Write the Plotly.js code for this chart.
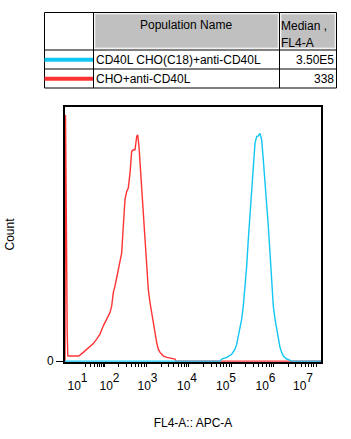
<!DOCTYPE html>
<html>
<head>
<meta charset="utf-8">
<script src="https://cdn.plot.ly/plotly-3.0.1.min.js"></script>
<style>html,body{margin:0;padding:0;background:#fff;}#chart{width:351px;height:439px;}</style>
</head>
<body>
<div id="chart"></div>
<script>
// ---- data (x in display channels 0..256 of the biexponential FL4-A axis, y in % of max) ----
const redX  = [0, 0.5, 1.3, 1.6, 2.2, 2.8, 3.3, 13.3, 15, 18.3, 21.7, 25, 28.3, 31.7, 35, 38.3, 41.7, 45, 46.7, 48.3, 50, 51.7, 53.3, 55, 56.7, 58.3, 60, 61.7, 63.3, 65, 66.7, 68.3, 70, 71.7, 72.7, 74, 75, 76.7, 78.3, 80, 81.7, 83.3, 85, 86.7, 88.3, 90, 91.7, 93.3, 95, 98.3, 101.7, 110, 111, 256];
const redY  = [0, 107.5, 64.7, 22.6, 12.5, 2.3, 2.2, 2.2, 2.6, 3.8, 5.2, 6.7, 7.7, 9.6, 11.8, 15.4, 18.3, 21.2, 24.1, 29.9, 32.8, 36.4, 39.3, 42.2, 47.3, 58.9, 70.5, 74.1, 75.6, 82.1, 91.6, 92.3, 92.3, 98.1, 98.8, 93.7, 86.5, 77.8, 63.3, 53.1, 41.5, 31.3, 25.5, 21.2, 15.4, 11.0, 8.1, 5.2, 3.8, 2.3, 1.6, 0.9, 0, 0];
const blueX = [0, 155, 156.7, 161.7, 166.7, 170, 171.7, 173.3, 175, 176.7, 178.3, 180, 181.7, 183.3, 185, 186.7, 188.3, 190, 191.7, 193.3, 195, 196.7, 198.3, 200, 201.7, 203.3, 205, 206.7, 208.3, 210, 211.7, 213.3, 215, 216.7, 218.3, 221.7, 225, 227, 256];
const blueY = [0, 0, 0.9, 1.6, 3.0, 5.2, 7.4, 11.0, 13.9, 18.3, 24.1, 31.3, 41.5, 53.1, 64.7, 76.3, 87.9, 95.2, 98.1, 98.4, 99.5, 96.6, 87.9, 79.2, 70.5, 58.9, 47.3, 32.8, 24.1, 18.3, 13.9, 9.6, 6.0, 3.8, 2.2, 0.9, 0.3, 0, 0];

const populations = ['CD40L CHO(C18)+anti-CD40L', 'CHO+anti-CD40L'];
const medians     = ['3.50E5', '338'];
const exponents   = ['1', '2', '3', '4', '5', '6', '7'];
const tickLabels  = exponents.map(e => '10<sup><sup><span style="font-size:12px">' + e + '</span></sup></sup>');

// ---- axis geometry (display channels) ----
const labelPos  = [12.5, 44.5, 82.5, 122, 161, 200.5, 238];
const decadePos = [0, 11.7, 41, 83.4, 125.8, 168.2, 210.6, 253];
const minorPos = [];
for (let d = 1; d < decadePos.length - 1; d++) {
  const a = decadePos[d], b = decadePos[d + 1];
  for (let k = 2; k <= 9; k++) minorPos.push(a + Math.log10(k) * (b - a));
}

const FONT = 'Liberation Sans, Arial, sans-serif';
const BLUE = '#12c6f3', RED = '#ff3333';

// plot area in pixels: x 65..321, y 107..362
const PX = p => (p - 65) / 256;
const PY = p => (362 - p) / 255;

const traces = [
  {x: redX, y: redY, type: 'scatter', mode: 'lines', line: {color: RED, width: 1.4}, hoverinfo: 'skip', name: populations[1]},
  {x: blueX, y: blueY, type: 'scatter', mode: 'lines', line: {color: BLUE, width: 1.4}, hoverinfo: 'skip', name: populations[0]}
];

const shapes = [];
const line = (x0, y0, x1, y1, color, width) => shapes.push({type: 'line', xref: 'paper', yref: 'paper', x0: PX(x0), x1: PX(x1), y0: PY(y0), y1: PY(y1), line: {color: color, width: width}});
const rect = (x0, y0, x1, y1, fill, lc, lw) => shapes.push({type: 'rect', xref: 'paper', yref: 'paper', x0: PX(x0), x1: PX(x1), y0: PY(y0), y1: PY(y1), fillcolor: fill, line: {color: lc, width: lw}});

rect(44.5, 12.5, 336.5, 88, '#ffffff', '#000', 1);
rect(95, 14, 278, 48, '#c0c0c0', '#e4e4e4', 1);
rect(281, 14, 335, 48, '#c0c0c0', '#e4e4e4', 1);
line(93.5, 12.5, 93.5, 88, '#000', 1);
line(279.5, 12.5, 279.5, 88, '#000', 1);
line(44.5, 50, 336.5, 50, '#000', 1);
line(44.5, 69, 336.5, 69, '#000', 1);
line(44.5, 59.7, 93, 59.7, BLUE, 4);
line(44.5, 78.7, 93, 78.7, RED, 4);

const ann = (text, x, y, xanchor) => ({text: text, xref: 'paper', yref: 'paper', x: PX(x), y: PY(y), xanchor: xanchor, yanchor: 'middle', showarrow: false, borderpad: 0, borderwidth: 0, font: {family: FONT, size: 12, color: '#000'}});
const annotations = [
  ann('Population Name', 186, 25, 'center'),
  ann('Median ,', 281, 25.5, 'left'),
  ann('FL4-A', 281, 42.5, 'left'),
  ann(populations[0], 95.5, 60.5, 'left'),
  ann(populations[1], 95.5, 79.5, 'left'),
  ann(medians[0], 334, 60.5, 'right'),
  ann(medians[1], 334, 79.5, 'right')
];

const layout = {
  width: 351, height: 439,
  margin: {l: 65, r: 30, t: 107, b: 77},
  paper_bgcolor: '#fff', plot_bgcolor: '#fff',
  showlegend: false,
  font: {family: FONT, size: 12, color: '#000'},
  xaxis: {
    range: [0, 256], tickmode: 'array', tickvals: labelPos, ticktext: tickLabels,
    ticks: '', ticklabelstandoff: 12, showgrid: false, zeroline: false,
    showline: true, linewidth: 2, linecolor: '#000', mirror: true,
    tickfont: {family: FONT, size: 12, color: '#000'},
    minor: {tickmode: 'array', tickvals: minorPos, ticks: 'outside', ticklen: 3, tickwidth: 1, tickcolor: '#000', showgrid: false},
    title: {text: 'FL4-A:: APC-A', standoff: 26, font: {family: FONT, size: 12, color: '#000'}}
  },
  xaxis2: {
    overlaying: 'x', anchor: 'y', side: 'bottom', range: [0, 256],
    tickmode: 'array', tickvals: decadePos, ticks: 'outside', ticklen: 5, tickwidth: 1, tickcolor: '#000',
    showticklabels: false, showgrid: false, zeroline: false, showline: false
  },
  yaxis: {
    range: [-0.4, 111], tickmode: 'array', tickvals: [0], ticktext: ['0'],
    ticks: 'outside', ticklen: 7, tickwidth: 1, tickcolor: '#000',
    showgrid: false, zeroline: false, showline: true, linewidth: 2, linecolor: '#000', mirror: true,
    tickfont: {family: FONT, size: 12, color: '#000'},
    title: {text: 'Count', standoff: 30, font: {family: FONT, size: 12, color: '#000'}}
  },
  shapes: shapes,
  annotations: annotations
};

Plotly.newPlot('chart', traces, layout, {staticPlot: true, displayModeBar: false});
</script>
</body>
</html>
